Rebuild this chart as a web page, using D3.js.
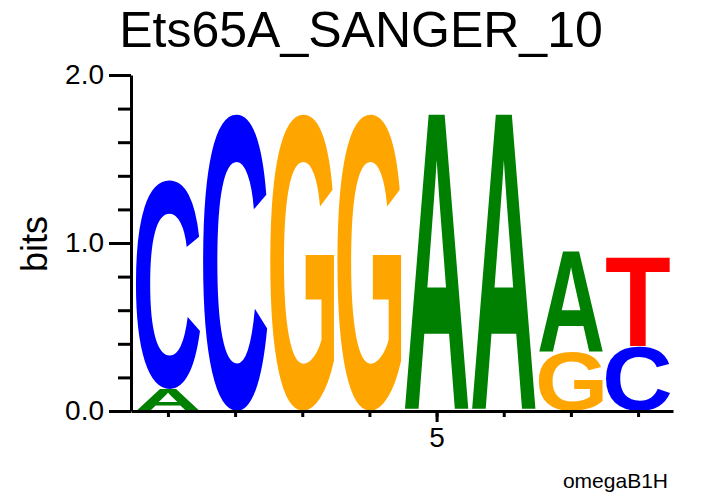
<!DOCTYPE html>
<html><head><meta charset="utf-8">
<script src="https://cdn.jsdelivr.net/npm/d3@7"></script>
<style>html,body{margin:0;padding:0;background:#fff;}svg{display:block;}</style>
</head><body>
<svg id="chart" width="721" height="496"></svg>
<script>
// ---- data ----
const title = "Ets65A_SANGER_10";
const footer = "omegaB1H";
const positions = [1, 2, 3, 4, 5, 6, 7, 8];
// stacks bottom -> top, heights in bits
const stackLetters = [["A","C"],["C"],["G"],["G"],["A"],["A"],["G","A"],["C","T"]];
const stackBits    = [[0.131,1.244],[1.768],[1.768],[1.768],[1.768],[1.768],[0.35,0.60],[0.387,0.53]];
const yMajorTicks = [0, 1, 2];
const yMinorTicks = [0.2, 0.4, 0.6, 0.8, 1.2, 1.4, 1.6, 1.8];
const xLabelTicks = [5];
const letterColors = {A:"#008000", C:"#0000ff", G:"#ffa500", T:"#ff0000"};

// ---- layout ----
const svg = d3.select("#chart");
const x = d3.scaleLinear().domain([0.45, 8.52]).range([131, 673]);
const y = d3.scaleLinear().domain([0, 2]).range([411, 75]);
const step = x(2) - x(1);
const letterW = step * 0.955;

// measure glyph ink bounds with canvas
const ctx = document.createElement("canvas").getContext("2d");
const FONT_PX = 200;
const fontFamily = '"Liberation Sans", Arial, Helvetica, sans-serif';
ctx.font = `bold ${FONT_PX}px ${fontFamily}`;
const metrics = {};
["A","C","G","T"].forEach(ch => {
  const m = ctx.measureText(ch);
  metrics[ch] = {l: m.actualBoundingBoxLeft, r: m.actualBoundingBoxRight,
                 a: m.actualBoundingBoxAscent, d: m.actualBoundingBoxDescent};
});

const gLetters = svg.append("g");
positions.forEach((p, i) => {
  let base = 0;
  stackLetters[i].forEach((ch, j) => {
    const h = stackBits[i][j];
    const x0 = x(p) - letterW / 2;
    const yTop = y(base + h);
    const hPx = y(base) - yTop;
    const m = metrics[ch];
    const sx = letterW / (m.l + m.r);
    const sy = hPx / (m.a + m.d);
    gLetters.append("text")
      .attr("transform", `translate(${x0},${yTop}) scale(${sx},${sy}) translate(${m.l},${m.a})`)
      .attr("font-family", fontFamily)
      .attr("font-weight", "bold")
      .attr("font-size", FONT_PX)
      .attr("fill", letterColors[ch])
      .text(ch);
    base += h;
  });
});

// y axis
const yMinor = svg.append("g").attr("transform", "translate(131,0)")
  .call(d3.axisLeft(y).tickValues(yMinorTicks).tickSize(13).tickFormat(""));
const yMajor = svg.append("g").attr("transform", "translate(131,0)")
  .call(d3.axisLeft(y).tickValues(yMajorTicks).tickSize(22).tickSizeOuter(0).tickPadding(5).tickFormat(d3.format(".1f")));
[yMinor, yMajor].forEach(g => {
  g.selectAll("line").attr("stroke", "#000").attr("stroke-width", 3);
  g.selectAll("path").attr("stroke", "#000").attr("stroke-width", 3);
  g.selectAll("text").attr("font-family", fontFamily).attr("font-size", 28).attr("fill", "#000");
});
yMinor.select("path").remove();

// x axis
const xMinor = svg.append("g").attr("transform", "translate(0,411)")
  .call(d3.axisBottom(x).tickValues(positions).tickSize(6).tickSizeOuter(0).tickFormat(""));
const xMajor = svg.append("g").attr("transform", "translate(0,411)")
  .call(d3.axisBottom(x).tickValues(xLabelTicks).tickSize(11).tickPadding(5).tickFormat(d3.format("d")));
xMajor.select("path").remove();
[xMinor, xMajor].forEach(g => {
  g.selectAll("line").attr("stroke", "#000").attr("stroke-width", 3);
  g.selectAll("path").attr("stroke", "#000").attr("stroke-width", 3);
  g.selectAll("text").attr("font-family", fontFamily).attr("font-size", 28).attr("fill", "#000");
});

// labels
svg.append("text").attr("x", 361).attr("y", 47).attr("text-anchor", "middle")
  .attr("font-family", fontFamily).attr("font-size", 50).text(title);
svg.append("text").attr("transform", "translate(47,244) rotate(-90)").attr("text-anchor", "middle")
  .attr("font-family", fontFamily).attr("font-size", 36).text("bits");
svg.append("text").attr("x", 668).attr("y", 488).attr("text-anchor", "end")
  .attr("font-family", fontFamily).attr("font-size", 21).text(footer);
</script>
</body></html>
